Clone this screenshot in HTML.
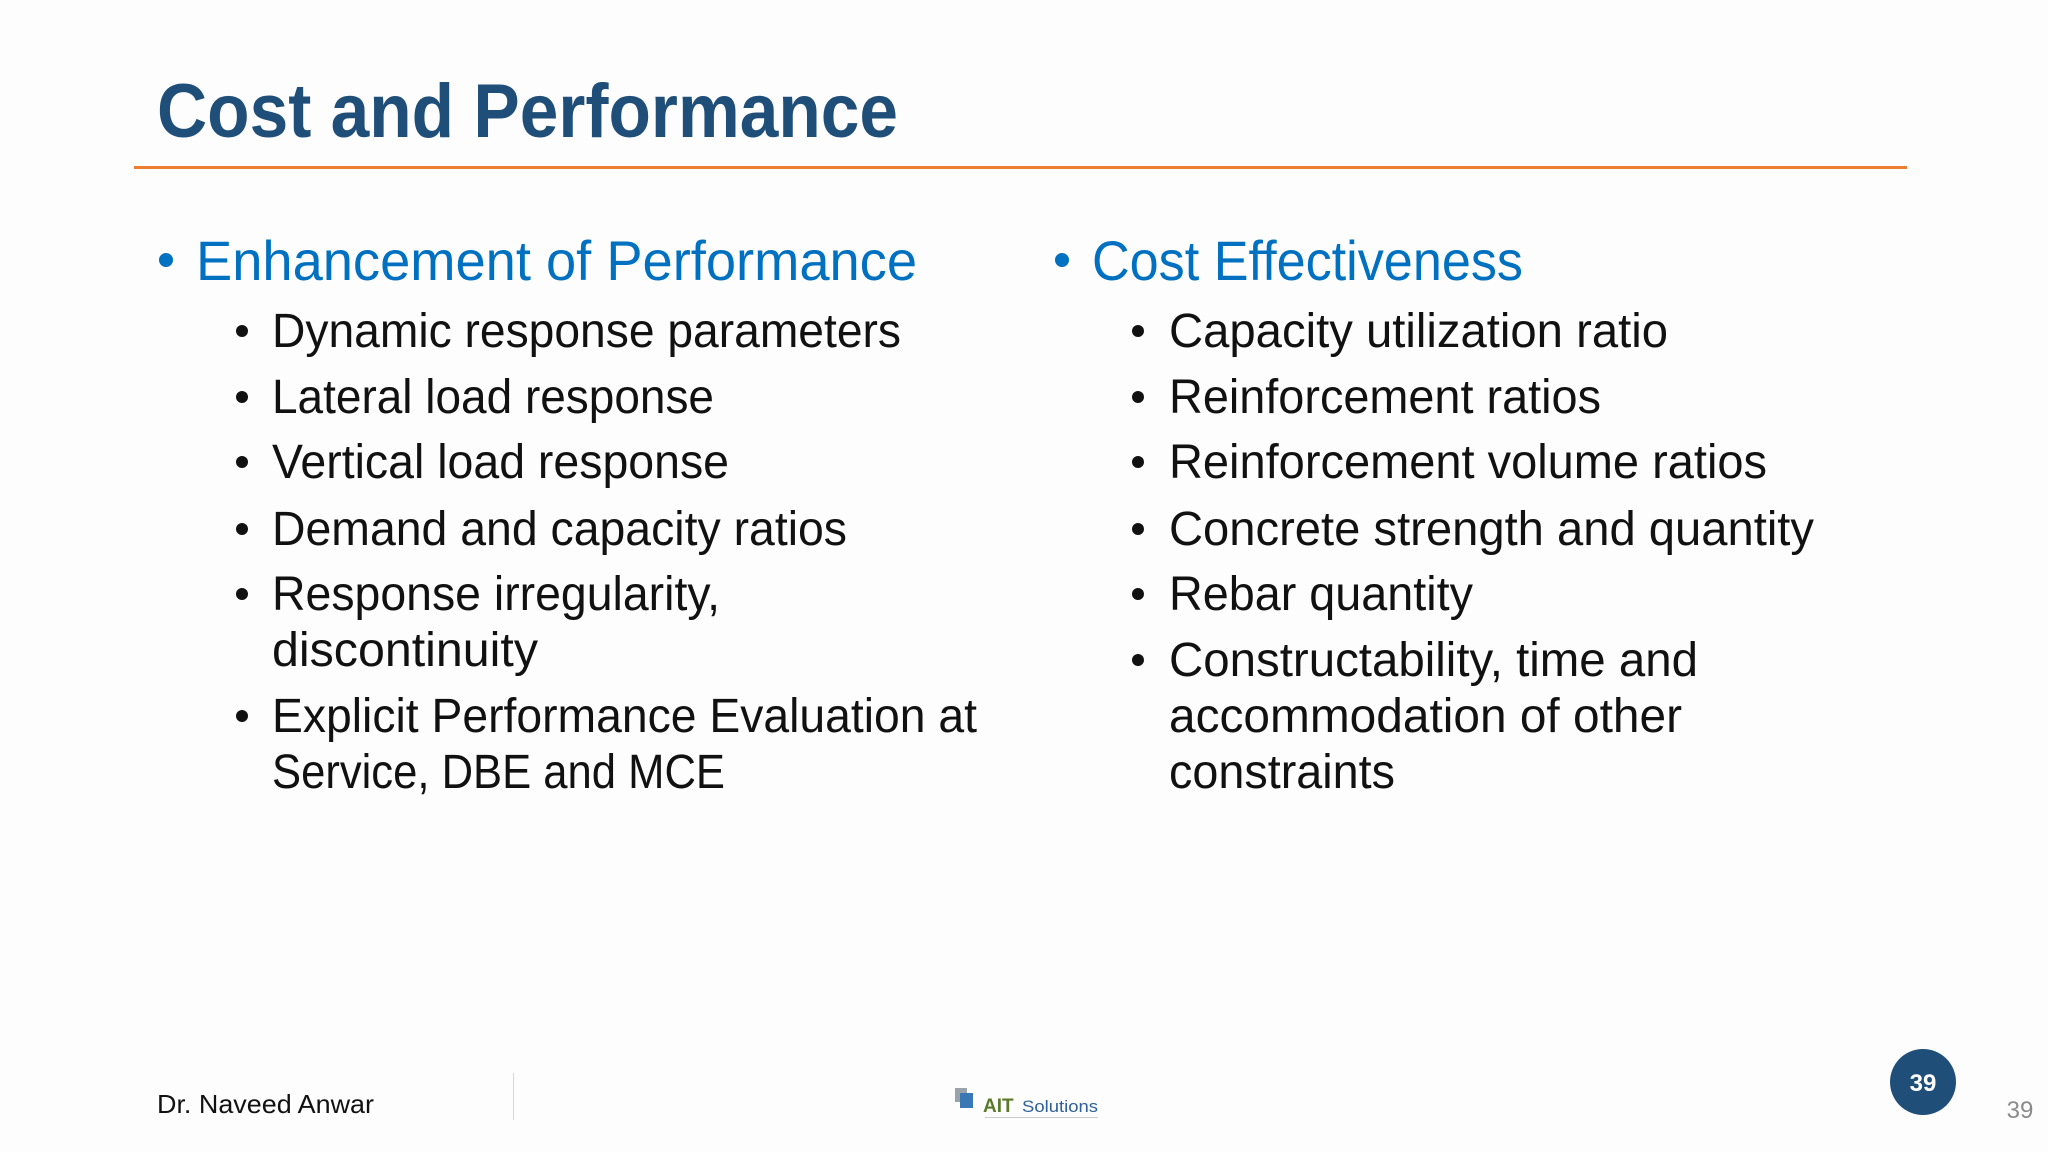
<!DOCTYPE html>
<html><head><meta charset="utf-8"><style>
html,body{margin:0;padding:0;background:#fdfdfd;}
svg{display:block}
</style></head><body>
<svg width="2048" height="1152" viewBox="0 0 2048 1152" xmlns="http://www.w3.org/2000/svg">
<rect width="2048" height="1152" fill="#fdfdfd"/>
<text x="157" y="137" font-family="Liberation Sans, sans-serif" font-weight="bold" font-size="76" fill="#1F4E79" textLength="741" lengthAdjust="spacingAndGlyphs">Cost and Performance</text>
<rect x="134" y="166" width="1773" height="3" fill="#ED7D31"/>

<g font-family="Liberation Sans, sans-serif">
<circle cx="166" cy="260" r="7" fill="#0070C0"/>
<text x="196" y="280" font-size="56" fill="#0070C0" textLength="721" lengthAdjust="spacingAndGlyphs">Enhancement of Performance</text>
<g font-size="48" fill="#111">
<circle cx="242" cy="331" r="6" fill="#111"/>
<text x="272" y="347" textLength="629" lengthAdjust="spacingAndGlyphs">Dynamic response parameters</text>
<circle cx="242" cy="397" r="6" fill="#111"/>
<text x="272" y="413" textLength="442" lengthAdjust="spacingAndGlyphs">Lateral load response</text>
<circle cx="242" cy="462" r="6" fill="#111"/>
<text x="272" y="478" textLength="457" lengthAdjust="spacingAndGlyphs">Vertical load response</text>
<circle cx="242" cy="529" r="6" fill="#111"/>
<text x="272" y="545" textLength="575" lengthAdjust="spacingAndGlyphs">Demand and capacity ratios</text>
<circle cx="242" cy="594" r="6" fill="#111"/>
<text x="272" y="610" textLength="448" lengthAdjust="spacingAndGlyphs">Response irregularity,</text>
<text x="272" y="666" textLength="266" lengthAdjust="spacingAndGlyphs">discontinuity</text>
<circle cx="242" cy="716" r="6" fill="#111"/>
<text x="272" y="732" textLength="705" lengthAdjust="spacingAndGlyphs">Explicit Performance Evaluation at</text>
<text x="272" y="788" textLength="453" lengthAdjust="spacingAndGlyphs">Service, DBE and MCE</text>
</g></g>

<g font-family="Liberation Sans, sans-serif">
<circle cx="1062" cy="260" r="7" fill="#0070C0"/>
<text x="1092" y="280" font-size="56" fill="#0070C0" textLength="431" lengthAdjust="spacingAndGlyphs">Cost Effectiveness</text>
<g font-size="48" fill="#111">
<circle cx="1138" cy="331" r="6" fill="#111"/>
<text x="1169" y="347" textLength="499" lengthAdjust="spacingAndGlyphs">Capacity utilization ratio</text>
<circle cx="1138" cy="397" r="6" fill="#111"/>
<text x="1169" y="413" textLength="432" lengthAdjust="spacingAndGlyphs">Reinforcement ratios</text>
<circle cx="1138" cy="462" r="6" fill="#111"/>
<text x="1169" y="478" textLength="598" lengthAdjust="spacingAndGlyphs">Reinforcement volume ratios</text>
<circle cx="1138" cy="529" r="6" fill="#111"/>
<text x="1169" y="545" textLength="645" lengthAdjust="spacingAndGlyphs">Concrete strength and quantity</text>
<circle cx="1138" cy="594" r="6" fill="#111"/>
<text x="1169" y="610" textLength="304" lengthAdjust="spacingAndGlyphs">Rebar quantity</text>
<circle cx="1138" cy="660" r="6" fill="#111"/>
<text x="1169" y="676" textLength="529" lengthAdjust="spacingAndGlyphs">Constructability, time and</text>
<text x="1169" y="732" textLength="513" lengthAdjust="spacingAndGlyphs">accommodation of other</text>
<text x="1169" y="788" textLength="226" lengthAdjust="spacingAndGlyphs">constraints</text>
</g></g>

<text x="157" y="1113" font-family="Liberation Sans, sans-serif" font-size="26" fill="#111" textLength="217" lengthAdjust="spacingAndGlyphs">Dr. Naveed Anwar</text>
<rect x="513" y="1073" width="1" height="47" fill="#d8d8d8"/>
<g>
<rect x="955" y="1088" width="12" height="14" fill="#9aa3ab"/>
<rect x="960" y="1093" width="13" height="15" fill="#3a78b5"/>
<text x="983" y="1112" font-family="Liberation Sans, sans-serif" font-weight="bold" font-size="19" fill="#5a7a2a">AIT</text>
<text x="1022" y="1112" font-family="Liberation Sans, sans-serif" font-size="17" fill="#2d5f9a" textLength="76" lengthAdjust="spacingAndGlyphs">Solutions</text>
<rect x="985" y="1117" width="113" height="1" fill="#ccc"/>
</g>
<circle cx="1923" cy="1082" r="33" fill="#1F4E79"/>
<text x="1923" y="1091" text-anchor="middle" font-family="Liberation Sans, sans-serif" font-weight="bold" font-size="24" fill="#fff">39</text>
<text x="2020" y="1118" text-anchor="middle" font-family="Liberation Sans, sans-serif" font-size="24" fill="#8a8a8a">39</text>
</svg>
</body></html>
